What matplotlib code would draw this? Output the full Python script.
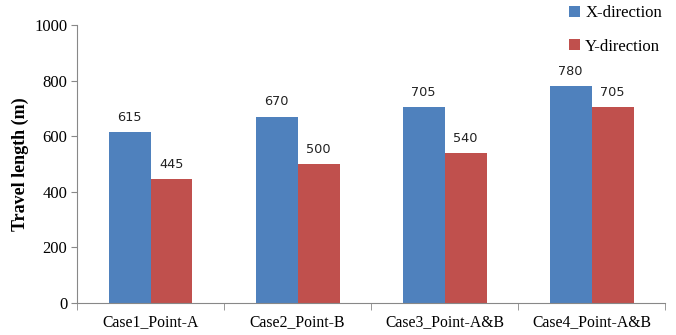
import numpy as np
import matplotlib
matplotlib.use('Agg')
import matplotlib.pyplot as plt

# --- data ---
cases = ['Case1_Point-A', 'Case2_Point-B', 'Case3_Point-A&B', 'Case4_Point-A&B']
x_dir = [615, 670, 705, 780]
y_dir = [445, 500, 540, 705]

blue = '#4F81BD'
red = '#C0504D'

fig = plt.figure(figsize=(6.76, 3.35), dpi=100)
ax = fig.add_axes([0.114, 0.0955, 0.87, 0.83])

pos = np.arange(len(cases))
w = 0.285
b1 = ax.bar(pos - w / 2, x_dir, w, color=blue, label='X-direction')
b2 = ax.bar(pos + w / 2, y_dir, w, color=red, label='Y-direction')

for bars in (b1, b2):
    for b in bars:
        ax.annotate(str(int(b.get_height())), (b.get_x() + b.get_width() / 2, b.get_height()),
                    xytext=(0, 6), textcoords='offset points', ha='center', va='bottom',
                    fontsize=9.3, family='DejaVu Sans', color='#222222')

ax.set_xlim(-0.5, len(cases) - 0.5)
ax.set_ylim(0, 1000)
ax.set_yticks(range(0, 1001, 200))
ax.set_yticklabels([str(v) for v in range(0, 1001, 200)], family='Liberation Serif', fontsize=12)

# category labels centred, tick marks at category borders (excel style)
ax.set_xticks(pos)
ax.set_xticklabels(cases, family='Liberation Serif', fontsize=11.3)
ax.tick_params(axis='x', length=0, pad=8)
ax.set_xticks(np.arange(-0.5, len(cases), 1.0), minor=True)
ax.tick_params(axis='x', which='minor', length=5, color='#888888')
ax.tick_params(axis='y', length=4, color='#888888', pad=3)

for s in ['top', 'right']:
    ax.spines[s].set_visible(False)
for s in ['left', 'bottom']:
    ax.spines[s].set_color('#888888')

ax.set_ylabel('Travel length (m)', family='Liberation Serif', fontweight='bold', fontsize=13, labelpad=4)

leg = ax.legend(loc='upper right', bbox_to_anchor=(1.02, 1.125), frameon=False,
                prop={'family': 'Liberation Serif', 'size': 12},
                handlelength=0.65, handleheight=0.65, handletextpad=0.3, labelspacing=1.05)

fig.savefig('out.png', dpi=100)
